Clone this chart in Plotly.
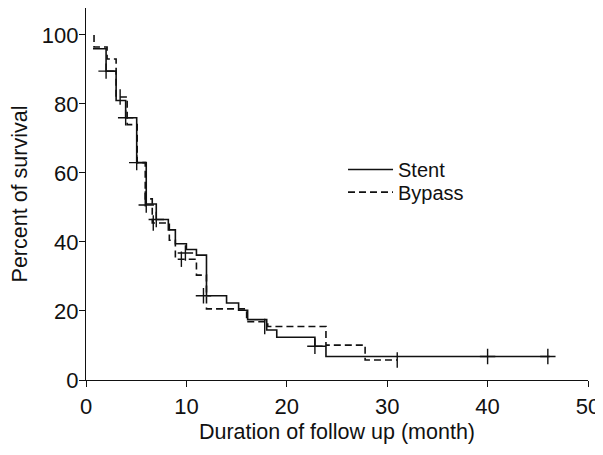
import plotly.graph_objects as go

# Stent (solid) Kaplan-Meier steps
stent_t = [0.7, 2.0, 3.0, 3.95, 5.05, 6.0, 7.0, 8.2, 8.9, 10.0, 11.0, 12.0, 14.0, 15.2, 16.1, 18.0, 19.0, 22.8, 23.9, 46.2]
stent_s = [96, 89.5, 81, 76, 63, 51, 46.5, 43.5, 39.5, 37.8, 36.2, 24.4, 22.3, 20.2, 17.5, 14.5, 12.4, 9.8, 6.8, 6.8]

# Bypass (dashed) Kaplan-Meier steps
bypass_t = [0.8, 0.8, 2.1, 3.0, 4.1, 5.1, 5.9, 6.6, 8.3, 8.9, 11.0, 12.0, 16.0, 18.1, 23.9, 27.8, 31.0]
bypass_s = [100, 96.5, 93, 82, 74, 63, 52.5, 45.5, 40.5, 35, 30.4, 20.6, 16.9, 15.5, 10.1, 5.8, 5.8]

# Censored observations (crosses)
stent_cens_t = [2.0, 3.95, 5.05, 6.0, 7.0, 9.9, 11.7, 22.8, 40.0, 46.0]
stent_cens_s = [89.5, 76, 63, 50.7, 46.5, 36.8, 24.4, 9.8, 6.8, 6.8]
bypass_cens_t = [3.4, 5.9, 6.7, 9.5, 17.8, 31.0]
bypass_cens_s = [82, 52.5, 45.5, 35, 15.5, 5.8]

x_ticks = [0, 10, 20, 30, 40, 50]
y_ticks = [0, 20, 40, 60, 80, 100]

FONT = "Liberation Sans, Arial, sans-serif"
INK = "#111111"

fig = go.Figure()
fig.add_trace(go.Scatter(x=stent_t, y=stent_s, mode="lines", line_shape="hv",
                         line=dict(color=INK, width=1.6), name="Stent", legend="legend"))
fig.add_trace(go.Scatter(x=bypass_t, y=bypass_s, mode="lines", line_shape="hv",
                         line=dict(color=INK, width=1.6, dash="7px,4px"), name="Bypass", legend="legend2"))
fig.add_trace(go.Scatter(x=stent_cens_t, y=stent_cens_s, mode="markers", showlegend=False,
                         marker=dict(symbol="cross-thin-open", size=11, color=INK,
                                     line=dict(color=INK, width=1.4))))
fig.add_trace(go.Scatter(x=bypass_cens_t, y=bypass_cens_s, mode="markers", showlegend=False,
                         marker=dict(symbol="line-ns-open", size=11, color=INK,
                                     line=dict(color=INK, width=1.4))))

axis_common = dict(showline=True, linecolor=INK, linewidth=1.3, ticks="outside", ticklen=6,
                   tickcolor=INK, tickwidth=1.2, showgrid=False, zeroline=False, automargin=False,
                   tickfont=dict(family=FONT, size=22, color=INK))

legend_common = dict(xanchor="left", yanchor="middle", bgcolor="rgba(0,0,0,0)", itemwidth=45,
                     font=dict(family=FONT, size=20, color=INK))

fig.update_layout(
    width=595, height=447,
    margin=dict(l=78, r=15, t=0, b=75),
    paper_bgcolor="white", plot_bgcolor="white",
    font=dict(family=FONT, size=20, color=INK),
    xaxis=dict(range=[0, 50], tickvals=x_ticks,
               title=dict(text="Duration of follow up (month)", font=dict(family=FONT, size=21.5), standoff=6),
               **axis_common),
    yaxis=dict(range=[0, 107.8], tickvals=y_ticks, ticklabelstandoff=-4,
               title=dict(text="Percent of survival", font=dict(family=FONT, size=21.5), standoff=20),
               **axis_common),
    legend=dict(x=0.512, y=0.566, **legend_common),
    legend2=dict(x=0.512, y=0.505, **legend_common),
)

fig.write_html("out.html")
